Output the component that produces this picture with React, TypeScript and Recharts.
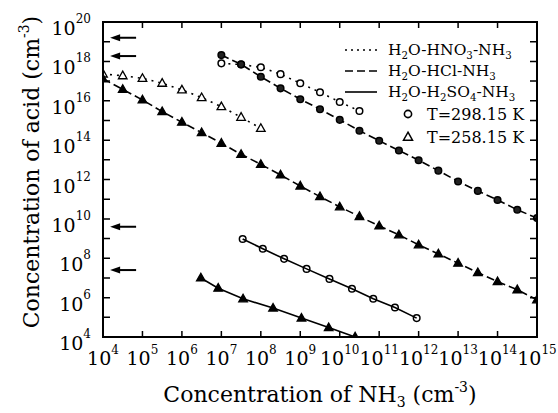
import React from 'react';
import { ComposedChart, Line, Scatter, XAxis, YAxis } from 'recharts';

// ---- data (log10 exponents) ----
const xTickExps = [4, 5, 6, 7, 8, 9, 10, 11, 12, 13, 14, 15];
const yTickExps = [4, 5, 6, 7, 8, 9, 10, 11, 12, 13, 14, 15, 16, 17, 18, 19, 20];

const hno3_298_x = [7.0, 7.5, 8.0, 8.5, 9.0, 9.5, 10.0, 10.5];
const hno3_298_y = [17.9, 17.84, 17.7, 17.35, 16.89, 16.43, 15.94, 15.48];

const hcl_298_x = [7.0, 7.5, 8.0, 8.5, 9.0, 9.5, 10.0, 10.5, 11.0, 11.5, 12.0, 12.5, 13.0, 13.5, 14.0, 14.5, 15.0];
const hcl_298_y = [18.32, 17.85, 17.22, 16.63, 16.08, 15.57, 15.03, 14.48, 13.97, 13.47, 12.98, 12.45, 11.9, 11.42, 10.96, 10.46, 10.04];

const hno3_258_x = [4.0, 4.5, 5.0, 5.5, 6.0, 6.5, 7.0, 7.5, 8.0];
const hno3_258_y = [17.36, 17.27, 17.14, 16.89, 16.55, 16.16, 15.7, 15.16, 14.6];

const hcl_258_x = [4.0, 4.5, 5.0, 5.5, 6.0, 6.5, 7.0, 7.5, 8.0, 8.5, 9.0, 9.5, 10.0, 10.5, 11.0, 11.5, 12.0, 12.5, 13.0, 13.5, 14.0, 14.5, 15.0];
const hcl_258_y = [17.11, 16.58, 16.04, 15.45, 14.91, 14.38, 13.84, 13.28, 12.77, 12.23, 11.67, 11.13, 10.61, 10.12, 9.64, 9.19, 8.68, 8.22, 7.75, 7.27, 6.81, 6.4, 5.89];

const h2so4_298_x = [7.54, 8.05, 8.59, 9.16, 9.74, 10.31, 10.85, 11.4, 11.95];
const h2so4_298_y = [8.98, 8.48, 7.97, 7.46, 6.95, 6.45, 5.94, 5.5, 4.96];

const h2so4_258_x = [6.48, 6.92, 7.55, 8.31, 9.03, 9.72, 10.39];
const h2so4_258_y = [7.0, 6.48, 5.94, 5.47, 4.96, 4.48, 4.0];

const arrowTipExp = 4.18;
const arrowLevelExps = [19.2, 18.27, 9.6, 7.4];

const legendLines = [
  { parts: [['H', 'n'], ['2', 'sub'], ['O-HNO', 'n'], ['3', 'sub'], ['-NH', 'n'], ['3', 'sub']], dash: '2 4' },
  { parts: [['H', 'n'], ['2', 'sub'], ['O-HCl-NH', 'n'], ['3', 'sub']], dash: '8 4' },
  { parts: [['H', 'n'], ['2', 'sub'], ['O-H', 'n'], ['2', 'sub'], ['SO', 'n'], ['4', 'sub'], ['-NH', 'n'], ['3', 'sub']], dash: '' },
];
const legendTemps = [
  { label: 'T=298.15 K', marker: 'circle' },
  { label: 'T=258.15 K', marker: 'triangle' },
];

// ---- layout ----
const W = 558;
const H = 413;
const PLOT_LEFT = 103;
const PLOT_TOP = 22;
const PLOT_RIGHT = 537;
const PLOT_BOTTOM = 337;
const X_AXIS_H = 40;
const Y_AXIS_W = 40;

// ---- helpers ----
const FONT = '"DejaVu Serif", serif';
const pts = (xs: number[], ys: number[]) => xs.map((e, i) => ({ x: Math.pow(10, e), y: Math.pow(10, ys[i]) }));
const arrowPts = arrowLevelExps.map((e) => ({ x: Math.pow(10, arrowTipExp), y: Math.pow(10, e) }));

const circleDot = (fill: string) => (p: any) => {
  const { cx, cy, index } = p;
  if (cx == null || cy == null) return <g key={`c${index}`} />;
  return <circle key={`c${index}`} cx={cx} cy={cy} r={3.3} fill={fill} stroke="#000" strokeWidth={1.5} />;
};
const triDot = (fill: string) => (p: any) => {
  const { cx, cy, index } = p;
  if (cx == null || cy == null) return <g key={`t${index}`} />;
  return (
    <path key={`t${index}`} d={`M${cx},${cy - 4.6} L${cx + 4.3},${cy + 3} L${cx - 4.3},${cy + 3} Z`} fill={fill} stroke="#000" strokeWidth={1.3} />
  );
};

const exp = (v: number) => Math.round(Math.log10(v));

const BottomTick = (p: any) => {
  const { x, y, payload } = p;
  const e = exp(payload.value);
  return (
    <g>
      <path d={`M${x},${y}V${y - 6}M${x},${PLOT_TOP}V${PLOT_TOP + 6}`} stroke="#000" strokeWidth={1.5} fill="none" />
      <text x={x} y={y + 28} textAnchor="middle" fontFamily={FONT} fontSize={19} fill="#000">
        10<tspan dy={-11} fontSize={12}>{e}</tspan>
      </text>
    </g>
  );
};
const LeftTick = (p: any) => {
  const { x, y, payload } = p;
  const e = exp(payload.value);
  return (
    <g>
      <path d={`M${x},${y}H${x + 7}M${PLOT_RIGHT},${y}H${PLOT_RIGHT - 7}`} stroke="#000" strokeWidth={1.5} fill="none" />
      {e % 2 === 0 ? (
        <text x={x - 12} y={y + 13} textAnchor="end" fontFamily={FONT} fontSize={19} fill="#000">
          10<tspan dy={-12} fontSize={12}>{e}</tspan>
        </text>
      ) : null}
    </g>
  );
};

const ArrowShape = (p: any) => {
  const { cx, cy } = p;
  return (
    <g>
      <line x1={cx + 6} y1={cy} x2={cx + 26} y2={cy} stroke="#000" strokeWidth={2} />
      <path d={`M${cx},${cy} L${cx + 10},${cy - 3.5} L${cx + 10},${cy + 3.5} Z`} fill="#000" />
    </g>
  );
};

const Formula = ({ parts, x, y, size }: any) => {
  let shift = 0;
  return (
    <text x={x} y={y} fontFamily={FONT} fontSize={size} fill="#000">
      {parts.map((pp: any, i: number) => {
        const [t, k] = pp;
        let target = 0;
        if (k === 'sub') target = size * 0.25;
        if (k === 'sup') target = -size * 0.45;
        const dy = target - shift;
        shift = target;
        return (
          <tspan key={i} dy={dy} fontSize={k === 'n' ? size : size * 0.66}>
            {t}
          </tspan>
        );
      })}
    </text>
  );
};

const axisLineStyle = { stroke: '#000', strokeWidth: 2 };

export default function App() {
  const xTicks = xTickExps.map((e) => Math.pow(10, e));
  const yTicks = yTickExps.map((e) => Math.pow(10, e));
  return (
    <div style={{ position: 'absolute', left: 0, top: 0, width: W, height: H, background: '#fff' }}>
      <ComposedChart
        width={W}
        height={H}
        margin={{ top: PLOT_TOP, right: W - PLOT_RIGHT, bottom: H - PLOT_BOTTOM - X_AXIS_H, left: PLOT_LEFT - Y_AXIS_W }}
      >
        <XAxis
          dataKey="x"
          type="number"
          scale="log"
          domain={[1e4, 1e15]}
          allowDataOverflow
          ticks={xTicks}
          interval={0}
          height={X_AXIS_H}
          tickSize={0}
          tickMargin={0}
          tickLine={false}
          axisLine={axisLineStyle}
          tick={BottomTick}
        />
        <YAxis
          dataKey="y"
          type="number"
          scale="log"
          domain={[1e4, 1e20]}
          allowDataOverflow
          ticks={yTicks}
          interval={0}
          width={Y_AXIS_W}
          tickSize={0}
          tickMargin={0}
          tickLine={false}
          axisLine={axisLineStyle}
          tick={LeftTick}
        />
        <Line data={pts(hno3_298_x, hno3_298_y)} dataKey="y" stroke="#000" strokeWidth={1.6} strokeDasharray="2 5" dot={circleDot('#fff')} isAnimationActive={false} />
        <Line data={pts(hcl_298_x, hcl_298_y)} dataKey="y" stroke="#000" strokeWidth={1.6} strokeDasharray="8 4" dot={circleDot('#222')} isAnimationActive={false} />
        <Line data={pts(hno3_258_x, hno3_258_y)} dataKey="y" stroke="#000" strokeWidth={1.6} strokeDasharray="2 5" dot={triDot('#fff')} isAnimationActive={false} />
        <Line data={pts(hcl_258_x, hcl_258_y)} dataKey="y" stroke="#000" strokeWidth={1.6} strokeDasharray="8 4" dot={triDot('#000')} isAnimationActive={false} />
        <Line data={pts(h2so4_298_x, h2so4_298_y)} dataKey="y" stroke="#000" strokeWidth={1.6} dot={circleDot('none')} isAnimationActive={false} />
        <Line data={pts(h2so4_258_x, h2so4_258_y)} dataKey="y" stroke="#000" strokeWidth={1.6} dot={triDot('#000')} isAnimationActive={false} />
        <Scatter data={arrowPts} dataKey="y" shape={ArrowShape} isAnimationActive={false} />
      </ComposedChart>
      <svg width={W} height={H} style={{ position: 'absolute', left: 0, top: 0, pointerEvents: 'none' }}>
        <rect x={PLOT_LEFT} y={PLOT_TOP} width={PLOT_RIGHT - PLOT_LEFT} height={PLOT_BOTTOM - PLOT_TOP} fill="none" stroke="#000" strokeWidth={2} />
        {legendLines.map((l, i) => (
          <g key={i}>
            <line x1={345} x2={377} y1={50 + i * 21} y2={50 + i * 21} stroke="#000" strokeWidth={1.6} strokeDasharray={l.dash || undefined} />
            <Formula parts={l.parts} x={388} y={50 + i * 21 + 5} size={15.5} />
          </g>
        ))}
        {legendTemps.map((t, i) => {
          const cy = 114 + i * 23;
          return (
            <g key={i}>
              {t.marker === 'circle' ? (
                <circle cx={408} cy={cy} r={3.6} fill="#fff" stroke="#000" strokeWidth={1.6} />
              ) : (
                <path d={`M408,${cy - 4.8} L412.5,${cy + 3.2} L403.5,${cy + 3.2} Z`} fill="#fff" stroke="#000" strokeWidth={1.5} />
              )}
              <text x={427} y={cy + 6} fontFamily={FONT} fontSize={16} fill="#000">
                {t.label}
              </text>
            </g>
          );
        })}
        <text x={320} y={402} textAnchor="middle" fontFamily={FONT} fontSize={22} fill="#000">
          Concentration of NH<tspan dy={5} fontSize={14}>3</tspan>
          <tspan dy={-5}> (cm</tspan>
          <tspan dy={-10} fontSize={14}>-3</tspan>
          <tspan dy={10}>)</tspan>
        </text>
        <text x={39} y={172} textAnchor="middle" transform="rotate(-90, 39, 172)" fontFamily={FONT} fontSize={22} fill="#000">
          Concentration of acid (cm<tspan dy={-10} fontSize={14}>-3</tspan>
          <tspan dy={10}>)</tspan>
        </text>
      </svg>
    </div>
  );
}
